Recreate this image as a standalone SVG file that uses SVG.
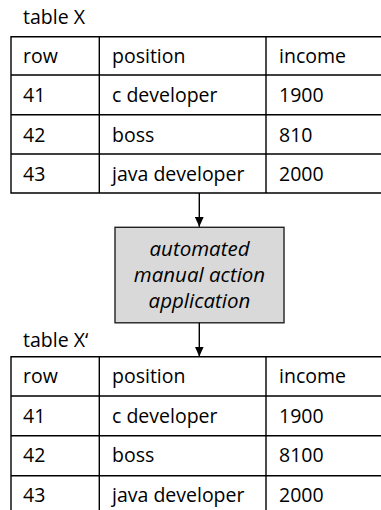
<svg xmlns="http://www.w3.org/2000/svg" width="381" height="510" viewBox="0 0 381 510">
<defs>
<style>
.t{font-family:"Open Sans","Noto Sans",sans-serif;font-size:19.5px;fill:#000}
.b{font-family:"Open Sans","Noto Sans",sans-serif;font-size:20.5px;font-style:italic;fill:#000;text-anchor:middle}
.g{fill:none;stroke:#000;stroke-width:1.4}
.c{stroke:#000;stroke-width:1.4;fill:none}
</style>
<marker id="ah" markerWidth="10" markerHeight="9" viewBox="0 0 10 9" refX="10" refY="4.5" orient="auto" markerUnits="userSpaceOnUse">
<path d="M0,0 L10,4.5 L0,9 Z" fill="#000"/>
</marker>
</defs>
<rect width="381" height="510" fill="#fff"/>
<g id="tableX">
<text class="t" x="23" y="24">table X</text>
<path class="g" d="M390,36.7 H11 V193 H390 M11,75 H390 M11,114.7 H390 M11,154 H390 M99.3,36.7 V193 M266,36.7 V193"/>
<text class="t" x="23" y="63">row</text>
<text class="t" x="112" y="63">position</text>
<text class="t" x="279" y="63">income</text>
<text class="t" x="23" y="102">41</text>
<text class="t" x="112" y="102">c developer</text>
<text class="t" x="279" y="102">1900</text>
<text class="t" x="23" y="141.5">42</text>
<text class="t" x="112" y="141.5">boss</text>
<text class="t" x="279" y="141.5">810</text>
<text class="t" x="23" y="181">43</text>
<text class="t" x="112" y="181">java developer</text>
<text class="t" x="279" y="181">2000</text>
</g>
<g id="action">
<rect x="115" y="227.3" width="169" height="95.5" fill="#d9d9d9" stroke="#222" stroke-width="1.4"/>
<text class="b" x="199.5" y="256">automated</text>
<text class="b" x="199.5" y="282">manual action</text>
<text class="b" x="199.5" y="308">application</text>
</g>
<g id="tableX2">
<text class="t" x="23" y="346.5">table X‘</text>
<path class="g" d="M390,356.7 H11 V520 M11,396 H390 M11,435.7 H390 M11,475.7 H390 M99.3,356.7 V520 M266,356.7 V520"/>
<text class="t" x="23" y="383">row</text>
<text class="t" x="112" y="383">position</text>
<text class="t" x="279" y="383">income</text>
<text class="t" x="23" y="422.5">41</text>
<text class="t" x="112" y="422.5">c developer</text>
<text class="t" x="279" y="422.5">1900</text>
<text class="t" x="23" y="462">42</text>
<text class="t" x="112" y="462">boss</text>
<text class="t" x="279" y="462">8100</text>
<text class="t" x="23" y="502">43</text>
<text class="t" x="112" y="502">java developer</text>
<text class="t" x="279" y="502">2000</text>
</g>
<g id="connectors">
<line class="c" x1="199.3" y1="193" x2="199.3" y2="226.7" marker-end="url(#ah)"/>
<line class="c" x1="199.3" y1="322.8" x2="199.3" y2="356.5" marker-end="url(#ah)"/>
</g>
</svg>
